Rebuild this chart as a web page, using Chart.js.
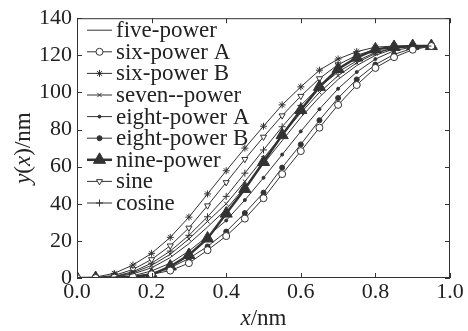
<!DOCTYPE html>
<html><head><meta charset="utf-8">
<script src="https://cdn.jsdelivr.net/npm/chart.js@4/dist/chart.umd.min.js"></script>
<style>html,body{margin:0;padding:0;background:#fff;}canvas{display:block;}</style>
</head><body>
<canvas id="c" width="468" height="331"></canvas>
<script>
// ---- data ----
const xValues = [0,0.05,0.1,0.15,0.2,0.25,0.3,0.35,0.4,0.45,0.5,0.55,0.6,0.65,0.7,0.75,0.8,0.85,0.9,0.95];
const fivePower   = [0,0,0.5,2.2,5.5,11,18.5,27.5,37,49,61.5,74,86.5,97.5,107,114.5,120,123.5,125,125];
const sixPowerA   = [0,0,0.2,0.8,2,4,8,15,22.6,32,43,56,68.4,81,93.3,104,113.2,119,123,125];
const sixPowerB   = [0,0.5,2.5,7,13.3,21.9,32.8,45.3,57.8,70,81.8,93.3,103,112,118,122,124.4,125,125,125];
const sevenPower  = [0,0,0.7,2.8,6.8,12.8,21,30.5,40,52,64.5,77,89,100,109,116,121,124,125,125];
const eightPowerA = [0,0,0.3,1.2,3.8,8,14.5,22.5,31,42,54,66.5,79,91,102,111,118,122.5,124.5,125];
const eightPowerB = [0,0,0.2,0.8,2.5,5.5,10.5,17,25,35,46,59.5,72,85,97,107,115,120.5,123.8,125];
const ninePower   = [0,0,0,0.5,1.8,6.2,12.4,21.3,34.7,48,62.5,77,90.5,103,112.6,118.8,123.2,124.5,125,125];
const sine        = [0,0.2,1.4,4.6,10,17.4,27,39,51.5,64,76,87.5,98,107.5,115,120,123.2,124.7,125,125];
const cosine      = [0,0.1,0.9,3.4,8,14.5,23,33,44,56.5,69,81.5,93,103,111,117,121.5,124,125,125];
const seriesNames = ['five-power','six-power A','six-power B','seven--power','eight-power A','eight-power B','nine-power','sine','cosine'];
const xTicks = [0,0.2,0.4,0.6,0.8,1.0];
const yTicks = [0,20,40,60,80,100,120,140];

const seriesValues = [fivePower,sixPowerA,sixPowerB,sevenPower,eightPowerA,eightPowerB,ninePower,sine,cosine];
const styles = [
  {pointStyle:false, radius:0, lw:1},
  {pointStyle:'circle', radius:3.5, lw:1, fill:'#fff'},
  {pointStyle:'star', radius:3.5, lw:1},
  {pointStyle:'crossRot', radius:3, lw:1},
  {pointStyle:'circle', radius:1.5, lw:1, fill:'#333'},
  {pointStyle:'circle', radius:2.5, lw:1, fill:'#333'},
  {pointStyle:'triangle', radius:7, lw:2.5, fill:'#333'},
  {pointStyle:'triangle', radius:3.5, lw:1, fill:'#fff', rotation:180},
  {pointStyle:'cross', radius:3.5, lw:1}
];
const INK = '#333';

const datasets = seriesNames.map((name,i)=>({
  label:name,
  data: xValues.map((x,j)=>({x:x, y:seriesValues[i][j]})),
  borderColor: INK,
  borderWidth: styles[i].lw,
  pointStyle: styles[i].pointStyle || 'circle',
  pointRadius: styles[i].pointStyle ? styles[i].radius : 0,
  pointRotation: styles[i].rotation || 0,
  pointBackgroundColor: styles[i].fill || INK,
  pointBorderColor: INK,
  pointBorderWidth: 1,
  tension: 0,
  fill:false
}));

const SERIF = '"Liberation Serif","Times New Roman",serif';

const decor = {
  id:'decor',
  afterDraw(chart){
    const {ctx, chartArea:a, scales:{x,y}} = chart;
    ctx.save();
    ctx.strokeStyle = INK; ctx.lineWidth = 1;
    ctx.strokeRect(a.left+0.5, a.top+0.5, a.right-a.left-1, a.bottom-a.top-1);
    // inward ticks
    ctx.beginPath();
    xTicks.forEach(v=>{
      const px = Math.round(x.getPixelForValue(v))+0.5;
      ctx.moveTo(px,a.bottom); ctx.lineTo(px,a.bottom-5);
      ctx.moveTo(px,a.top); ctx.lineTo(px,a.top+5);
    });
    yTicks.forEach(v=>{
      const py = Math.round(y.getPixelForValue(v))+0.5;
      ctx.moveTo(a.left,py); ctx.lineTo(a.left+5,py);
      ctx.moveTo(a.right,py); ctx.lineTo(a.right-5,py);
    });
    ctx.stroke();
    // legend
    const lx0 = a.left+10, lx1 = a.left+35, tx = a.left+39;
    ctx.font = '23px '+SERIF; ctx.textBaseline='middle'; ctx.textAlign='left';
    chart.data.datasets.forEach((ds,i)=>{
      const cy = a.top + 12 + i*21.6;
      ctx.strokeStyle = INK; ctx.lineWidth = ds.borderWidth;
      ctx.beginPath(); ctx.moveTo(lx0,cy); ctx.lineTo(lx1,cy); ctx.stroke();
      if (styles[i].pointStyle){
        ctx.fillStyle = ds.pointBackgroundColor; ctx.strokeStyle = INK; ctx.lineWidth = 1;
        Chart.helpers.drawPoint(ctx,{pointStyle:ds.pointStyle, radius:ds.pointRadius, rotation:ds.pointRotation, borderWidth:1},(lx0+lx1)/2,cy);
      }
      ctx.fillStyle = '#222';
      ctx.fillText(ds.label, tx, cy+1);
    });
    // axis titles
    const ital = 'italic 23px '+SERIF, norm = '23px '+SERIF;
    function drawParts(parts, cx, cy){
      let w=0; parts.forEach(p=>{ctx.font=p[1]; w+=ctx.measureText(p[0]).width;});
      let xx = cx - w/2;
      ctx.textAlign='left'; ctx.textBaseline='middle';
      parts.forEach(p=>{ctx.font=p[1]; ctx.fillText(p[0],xx,cy); xx+=ctx.measureText(p[0]).width;});
    }
    ctx.fillStyle='#222';
    drawParts([['x',ital],['/nm',norm]], (a.left+a.right)/2, 319);
    ctx.save();
    ctx.translate(24,(a.top+a.bottom)/2);
    ctx.rotate(-Math.PI/2);
    drawParts([['y',ital],['(',norm],['x',ital],[')/nm',norm]],0,0);
    ctx.restore();
    ctx.restore();
  }
};

new Chart(document.getElementById('c'),{
  type:'line',
  data:{datasets},
  plugins:[decor],
  options:{
    responsive:false, animation:false, devicePixelRatio:1,
    layout:{padding:{top:16,right:18,left:0,bottom:0}},
    plugins:{legend:{display:false}, tooltip:{enabled:false}},
    scales:{
      x:{type:'linear', min:0, max:1,
        afterFit(s){s.height=53;},
        afterBuildTicks(s){s.ticks = xTicks.map(v=>({value:v}));},
        grid:{display:false, drawTicks:false},
        border:{display:false},
        ticks:{padding:1, color:'#222', font:{family:SERIF,size:22}, maxRotation:0,
          callback:v=>v.toFixed(1)}
      },
      y:{min:0, max:140,
        afterFit(s){s.width=77;},
        afterBuildTicks(s){s.ticks = yTicks.map(v=>({value:v}));},
        grid:{display:false, drawTicks:false},
        border:{display:false},
        ticks:{padding:5, color:'#222', font:{family:SERIF,size:22}}
      }
    }
  }
});
</script>
</body></html>
